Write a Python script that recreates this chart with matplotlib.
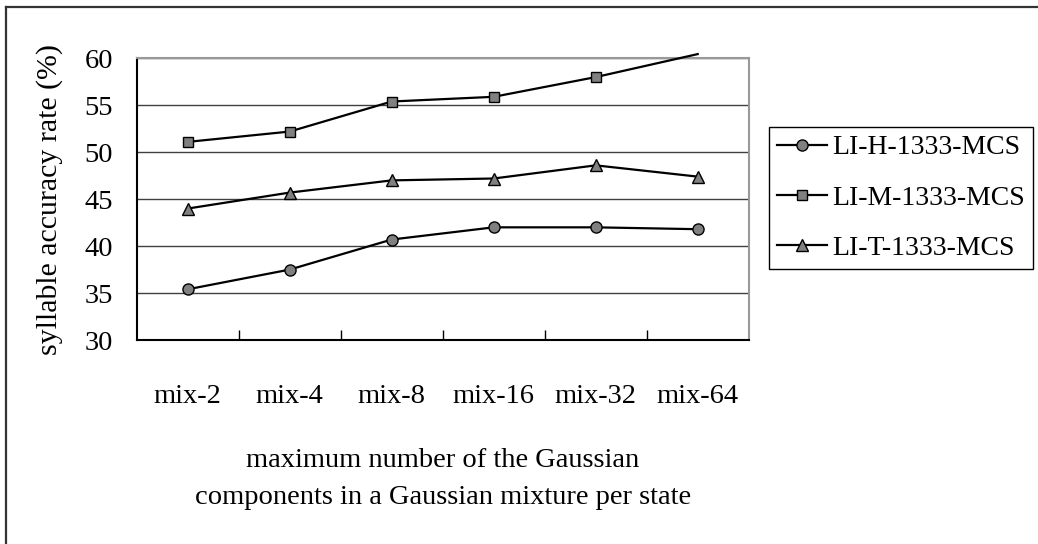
import matplotlib
matplotlib.use('Agg')
import matplotlib.pyplot as plt
from matplotlib.lines import Line2D

plt.rcParams['font.family'] = ['Liberation Serif', 'DejaVu Serif']
plt.rcParams['font.size'] = 20.5

categories = ['mix-2', 'mix-4', 'mix-8', 'mix-16', 'mix-32', 'mix-64']
li_h = [35.4, 37.5, 40.7, 42.0, 42.0, 41.8]
li_m = [51.1, 52.2, 55.4, 55.9, 58.0, 60.45]
li_t = [44.0, 45.7, 47.0, 47.2, 48.6, 47.4]
series = [('LI-H-1333-MCS', li_h, 'o', 8.0),
          ('LI-M-1333-MCS', li_m, 's', 7.5),
          ('LI-T-1333-MCS', li_t, '^', 9.0)]
yticks = [30, 35, 40, 45, 50, 55, 60]

fig = plt.figure(figsize=(10.38, 5.44), dpi=100)
ax = fig.add_axes([0.1317, 0.375, 0.5896, 0.5178])

x = list(range(len(categories)))
ymax = yticks[-1]
for name, vals, mk, ms in series:
    shown = [i for i, v in enumerate(vals) if v <= ymax]
    ax.plot(x, vals, color='black', lw=1.6, marker=mk, ms=ms,
            mfc='#808080', mec='black', mew=1.0, markevery=shown,
            label=name, clip_on=False, zorder=3)

ax.set_xlim(-0.5, len(categories) - 0.5)
ax.set_ylim(yticks[0], ymax)
ax.set_yticks(yticks)
ax.set_xticks(x)
ax.set_xticklabels(categories)
ax.set_xticks([i + 0.5 for i in x[:-1]], minor=True)
ax.tick_params(axis='x', which='major', length=0, pad=32)
ax.tick_params(axis='x', which='minor', direction='in', length=7.5, width=1, color='black')
ax.tick_params(axis='y', length=0, pad=17)
ax.grid(axis='y', color='#404040', lw=1)
ax.set_axisbelow(True)
for s in ['left', 'bottom']:
    ax.spines[s].set_color('black')
    ax.spines[s].set_linewidth(1.5)
for s in ['top', 'right']:
    ax.spines[s].set_color('#999999')
    ax.spines[s].set_linewidth(1.5)

fig.text(0.048, 0.634, 'syllable accuracy rate (%)', rotation=90,
         ha='center', va='center', fontsize=21.5)
fig.text(0.4265, 0.12, 'maximum number of the Gaussian\ncomponents in a Gaussian mixture per state',
         ha='center', va='center', linespacing=1.65)

leg = fig.legend(loc='upper left', bbox_to_anchor=(769 / 1038, 1 - 127 / 544), fontsize=20,
                 handlelength=1.8, handletextpad=0.2, labelspacing=0.9,
                 borderpad=0.28, borderaxespad=0, fancybox=False, framealpha=1)
leg.get_frame().set_edgecolor('black')
leg.get_frame().set_linewidth(1.0)

# outer frame (only top and left visible in the source image)
fig.add_artist(Line2D([6 / 1038, 1], [1 - 7 / 544, 1 - 7 / 544],
                      transform=fig.transFigure, color='#333333', lw=1.6))
fig.add_artist(Line2D([6 / 1038, 6 / 1038], [0, 1 - 7 / 544],
                      transform=fig.transFigure, color='#333333', lw=1.6))

fig.savefig('out.png', dpi=100)
